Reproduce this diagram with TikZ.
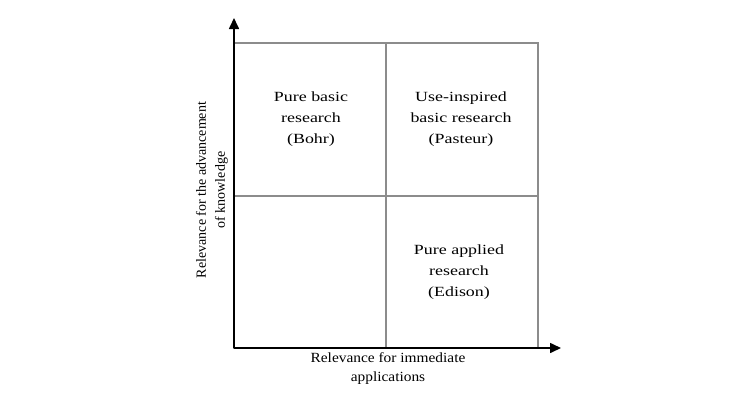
\documentclass[tikz,border=0pt]{standalone}
\usepackage{fontspec}
\setmainfont{Liberation Serif}
\usetikzlibrary{arrows.meta}

\begin{document}
\begin{tikzpicture}[x=1pt, y=-1pt,
    quad/.style = {align=center, inner sep=0pt, xscale=1.28,
        font=\fontsize{14}{21}\selectfont},
    axlabel/.style = {align=center, inner sep=0pt,
        font=\fontsize{14}{19}\selectfont},
    cell/.style = {draw=black!45, line width=1.3pt},
    axis/.style = {draw=black, line width=1.6pt, -{Triangle[length=11pt, width=10pt]}}]
            \useasboundingbox (0, 0) rectangle (743, 415);
            % quadrants
            \draw [cell] (234, 43) rectangle (538, 348);
            \draw [cell] (386, 43) -- (386, 348);
            \draw [cell] (234, 196) -- (538, 196);
            % axes
            \coordinate (O) at (234, 348);
            \coordinate (ytip) at (234, 18);
            \coordinate (xtip) at (561, 348);
            \draw [axis] (O) -- (ytip);
            \draw [axis] (O) -- (xtip);
            % labels
            \node [quad] (bohr) at (311, 119) {Pure basic\\research\\(Bohr)};
            \node [quad] (pasteur) at (461, 119) {Use-inspired\\basic research\\(Pasteur)};
            \node [quad] (edison) at (459, 272) {Pure applied\\research\\(Edison)};
            \node [axlabel, xscale=1.1] (xlabel) at (388, 369) {Relevance for immediate\\applications};
            \node [axlabel, rotate=90] (ylabel) at (212, 190) {Relevance for the advancement\\of knowledge};
        \end{tikzpicture}
\end{document}
